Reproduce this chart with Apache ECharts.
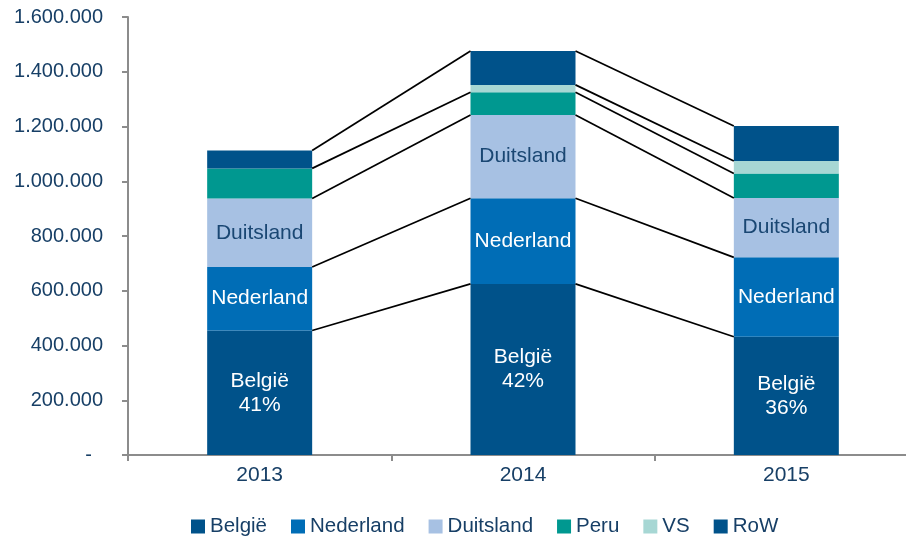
<!DOCTYPE html>
<html>
<head>
<meta charset="utf-8">
<script src="https://cdn.jsdelivr.net/npm/echarts@6/dist/echarts.min.js"></script>
<style>
  html, body { margin: 0; padding: 0; background: #fff; }
  #chart { width: 906px; height: 540px; }
</style>
</head>
<body>
<div id="chart"></div>
<script>
// gegevens per jaar
const years = ['2013', '2014', '2015']
const belgie = [455000, 625000, 432000]
const nederland = [232000, 313000, 290000]
const duitsland = [250000, 304000, 217000]
const peru = [110000, 83000, 89000]
const vs = [0, 27000, 46000]
const row = [65000, 124000, 128000]
const yTicks = [0, 200000, 400000, 600000, 800000, 1000000, 1200000, 1400000, 1600000]

const textColor = '#173F66'
const axisColor = '#8C8C8C'
const barWidth = 105
const font = 'Liberation Sans, Arial, sans-serif'

const stack = [
  { name: 'België', data: belgie, color: '#00528A', label: 'belgie' },
  { name: 'Nederland', data: nederland, color: '#006DB6', label: 'white' },
  { name: 'Duitsland', data: duitsland, color: '#A7C1E3', label: 'dark' },
  { name: 'Peru', data: peru, color: '#009890', label: null },
  { name: 'VS', data: vs, color: '#A7D7D4', label: null },
  { name: 'RoW', data: row, color: '#00528A', label: null }
]

const totals = years.map((y, i) => stack.reduce((s, k) => s + k.data[i], 0))

// verbindingslijnen tussen de bovenkanten van de segmenten
const connectors = []
for (let i = 0; i < years.length - 1; i++) {
  let cumA = 0
  let cumB = 0
  stack.forEach(k => {
    cumA += k.data[i]
    cumB += k.data[i + 1]
    if (k.data[i] > 0 && k.data[i + 1] > 0) {
      connectors.push([i, cumA, i + 1, cumB])
    }
  })
}

function fmt(v) {
  if (v === 0) return '-  '
  return String(v).replace(/\B(?=(\d{3})+(?!\d))/g, '.')
}

const series = stack.map(k => {
  const s = {
    name: k.name,
    type: 'bar',
    stack: 'totaal',
    barWidth: barWidth,
    data: k.data,
    itemStyle: { color: k.color },
    emphasis: { disabled: true }
  }
  if (k.label) {
    s.label = {
      show: true,
      position: 'inside',
      fontFamily: font,
      fontSize: 21,
      lineHeight: 24,
      color: k.label === 'dark' ? '#1A4773' : '#fff',
      formatter(p) {
        if (k.label === 'belgie') {
          return k.name + '\n' + Math.round(p.value / totals[p.dataIndex] * 100) + '%'
        }
        return k.name
      }
    }
  }
  return s
})

series.push({
  type: 'custom',
  name: 'lijnen',
  silent: true,
  data: connectors,
  encode: { x: [0, 2], y: [1, 3] },
  renderItem(params, api) {
    const a = api.coord([api.value(0), api.value(1)])
    const b = api.coord([api.value(2), api.value(3)])
    return {
      type: 'line',
      shape: { x1: a[0] + barWidth / 2, y1: a[1], x2: b[0] - barWidth / 2, y2: b[1] },
      style: { stroke: '#000', lineWidth: 1.7 }
    }
  },
  z: 3
})

const chart = echarts.init(document.getElementById('chart'), null, { renderer: 'canvas' })
chart.setOption({
  animation: false,
  textStyle: { fontFamily: font },
  grid: { left: 128, width: 790, top: 17, bottom: 85, containLabel: false, outerBoundsMode: 'none' },
  legend: {
    top: 511,
    left: 186,
    itemWidth: 14,
    itemHeight: 14,
    itemGap: 24,
    icon: 'rect',
    selectedMode: false,
    data: stack.map(k => k.name),
    textStyle: { color: textColor, fontSize: 20.5, fontFamily: font }
  },
  xAxis: {
    type: 'category',
    data: years,
    axisLine: { lineStyle: { color: axisColor, width: 2 } },
    axisTick: { show: true, length: 6, lineStyle: { color: axisColor, width: 2 } },
    axisLabel: { color: textColor, fontSize: 21, margin: 10 }
  },
  yAxis: {
    type: 'value',
    min: yTicks[0],
    max: yTicks[yTicks.length - 1],
    interval: yTicks[1] - yTicks[0],
    splitLine: { show: false },
    axisLine: { show: true, lineStyle: { color: axisColor, width: 2 } },
    axisTick: { show: true, length: 6, lineStyle: { color: axisColor, width: 2 } },
    axisLabel: { color: textColor, fontSize: 20, margin: 25, formatter: fmt }
  },
  series: series
})
</script>
</body>
</html>
